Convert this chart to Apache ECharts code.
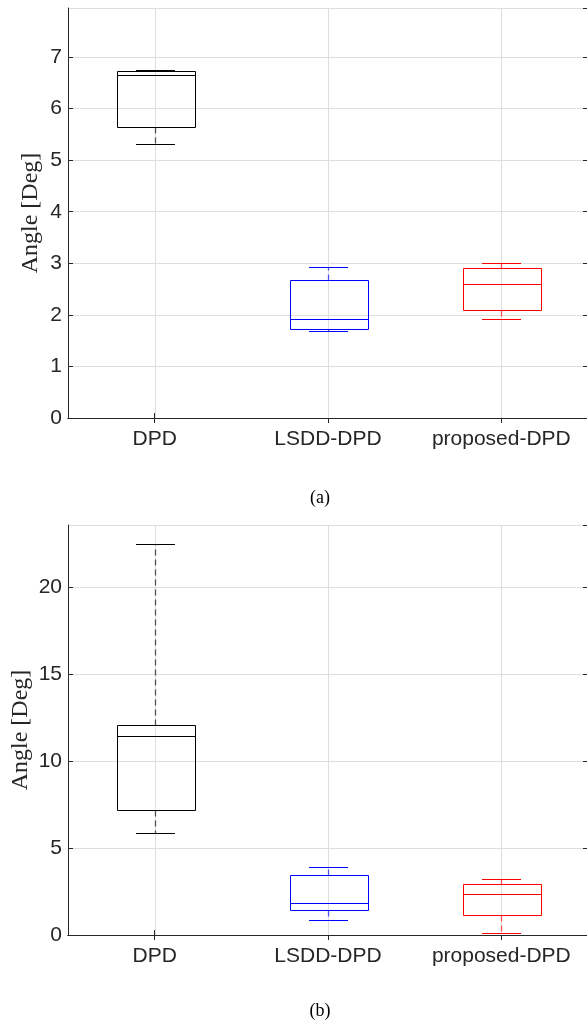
<!DOCTYPE html>
<html>
<head>
<meta charset="utf-8">
<script src="https://cdn.jsdelivr.net/npm/echarts@6/dist/echarts.min.js"></script>
<style>html,body{margin:0;padding:0;background:#fff}#c{width:587px;height:1023px}</style>
</head>
<body>
<div id="c"></div>
<script>
// ---- data ----
const categories = ['DPD', 'LSDD-DPD', 'proposed-DPD'];
const boxColors = ['#000000', '#0000ff', '#ff0000'];
// [lower whisker, Q1, median, Q3, upper whisker]
const dpdA  = [5.32, 5.65, 6.66, 6.72, 6.74];
const lsddA = [1.68, 1.73, 1.92, 2.67, 2.92];
const propA = [1.92, 2.09, 2.60, 2.91, 3.01];
const dpdB  = [5.86, 7.19, 11.43, 12.06, 22.5];
const lsddB = [0.86, 1.44, 1.86, 3.46, 3.94];
const propB = [0.10, 1.17, 2.35, 2.94, 3.21];
const yMaxA = 7.95, yIntA = 1;
const yMaxB = 23.6, yIntB = 5;
const yName = 'Angle [Deg]';
const captions = ['(a)', '(b)'];

const axisCol = '#262626';
const gridCol = '#dedede';
const sansFont = '"Liberation Sans", Arial, sans-serif';
const serifFont = '"Liberation Serif", "Times New Roman", serif';

const chart = echarts.init(document.getElementById('c'), null, {renderer: 'canvas'});

function rows(sets) {
  return sets.map((s, i) => [i].concat(s));
}

function renderBox(params, api) {
  const ci = api.value(0);
  const lo = api.value(1), q1 = api.value(2), med = api.value(3), q3 = api.value(4), hi = api.value(5);
  const band = api.size([1, 0])[0];
  const c = api.coord([ci, q1]);
  const cx = Math.round(c[0]) + 0.5;
  const yv = v => Math.round(api.coord([ci, v])[1]) + 0.5;
  const bw = band * 0.45, cw = band * 0.22;
  const col = boxColors[ci];
  const yTop = yv(q3), yBot = yv(q1), yMed = yv(med), yHi = yv(hi), yLo = yv(lo);
  const l = Math.round(cx - bw / 2) + 0.5, r = Math.round(cx + bw / 2) + 0.5;
  const cl = Math.round(cx - cw / 2), cr = Math.round(cx + cw / 2);
  const solid = {stroke: col, lineWidth: 1, fill: null};
  const dashed = {stroke: col, lineWidth: 1.3, lineDash: [6, 4], opacity: 0.65, fill: null};
  return {
    type: 'group',
    children: [
      {type: 'line', shape: {x1: cx, y1: yTop, x2: cx, y2: yHi}, style: dashed},
      {type: 'line', shape: {x1: cx, y1: yBot, x2: cx, y2: yLo}, style: dashed},
      {type: 'line', shape: {x1: cl, y1: yHi, x2: cr, y2: yHi}, style: solid},
      {type: 'line', shape: {x1: cl, y1: yLo, x2: cr, y2: yLo}, style: solid},
      {type: 'rect', shape: {x: l, y: yTop, width: r - l, height: yBot - yTop}, style: solid},
      {type: 'line', shape: {x1: l, y1: yMed, x2: r, y2: yMed}, style: solid}
    ]
  };
}

function renderVGrid(params, api) {
  const ci = api.value(0);
  const top = api.coord([ci, api.value(2)]);
  const bot = api.coord([ci, api.value(1)]);
  const x = Math.round(top[0]) + 0.5;
  return {type: 'line', shape: {x1: x, y1: top[1], x2: x, y2: bot[1]},
          style: {stroke: gridCol, lineWidth: 1}};
}

const grids = [
  {left: 68, top: 8, width: 520, height: 410, containLabel: false, outerBoundsMode: 'none'},
  {left: 68, top: 525, width: 520, height: 410, containLabel: false, outerBoundsMode: 'none'}
];

function xAxes(gi) {
  return [
    {type: 'category', gridIndex: gi, data: categories, position: 'bottom', boundaryGap: true,
     axisLine: {show: true, lineStyle: {color: axisCol, width: 1}},
     axisTick: {show: true, inside: true, length: 5, alignWithLabel: true, interval: 0, lineStyle: {color: axisCol}},
     axisLabel: {color: axisCol, fontSize: 21, fontFamily: sansFont, margin: 11, interval: 0, hideOverlap: false},
     splitLine: {show: false}},
    {type: 'category', gridIndex: gi, data: categories, position: 'top', boundaryGap: true,
     axisLine: {show: true, lineStyle: {color: axisCol, width: 1}},
     axisTick: {show: true, inside: true, length: 5, alignWithLabel: true, interval: 0, lineStyle: {color: axisCol}},
     axisLabel: {show: false}, splitLine: {show: false}}
  ];
}
function yAxes(gi, max, interval, gap) {
  return [
    {type: 'value', gridIndex: gi, min: 0, max: max, interval: interval, position: 'left',
     name: yName, nameLocation: 'middle', nameRotate: 90, nameGap: gap, nameMoveOverlap: false,
     nameTextStyle: {fontFamily: serifFont, fontSize: 24, color: axisCol},
     axisLine: {show: true, lineStyle: {color: axisCol, width: 1}},
     axisTick: {show: true, inside: true, length: 5, lineStyle: {color: axisCol}},
     axisLabel: {color: axisCol, fontSize: 21, fontFamily: sansFont, margin: 6, showMaxLabel: false},
     splitLine: {show: true, lineStyle: {color: gridCol, width: 1}}},
    {type: 'value', gridIndex: gi, min: 0, max: max, interval: interval, position: 'right',
     axisLine: {show: true, lineStyle: {color: axisCol, width: 1}},
     axisTick: {show: true, inside: true, length: 5, lineStyle: {color: axisCol}},
     axisLabel: {show: false}, splitLine: {show: false}}
  ];
}

const setsA = [dpdA, lsddA, propA];
const setsB = [dpdB, lsddB, propB];

const option = {
  animation: false,
  backgroundColor: '#ffffff',
  grid: grids,
  xAxis: xAxes(0).concat(xAxes(1)),
  yAxis: yAxes(0, yMaxA, yIntA, 25).concat(yAxes(1, yMaxB, yIntB, 35)),
  series: [
    {type: 'custom', xAxisIndex: 0, yAxisIndex: 0, renderItem: renderVGrid, z: 1,
     data: categories.map((c, i) => [i, 0, yMaxA])},
    {type: 'custom', xAxisIndex: 2, yAxisIndex: 2, renderItem: renderVGrid, z: 1,
     data: categories.map((c, i) => [i, 0, yMaxB])},
    {type: 'custom', xAxisIndex: 0, yAxisIndex: 0, renderItem: renderBox, z: 3,
     data: rows(setsA)},
    {type: 'custom', xAxisIndex: 2, yAxisIndex: 2, renderItem: renderBox, z: 3,
     data: rows(setsB)}
  ],
  graphic: [
    {type: 'text', style: {text: captions[0], x: 320, y: 498, textAlign: 'center', textVerticalAlign: 'middle', font: '18px ' + serifFont, fill: '#000'}},
    {type: 'text', style: {text: captions[1], x: 320, y: 1011, textAlign: 'center', textVerticalAlign: 'middle', font: '18px ' + serifFont, fill: '#000'}}
  ]
};
chart.setOption(option);
</script>
</body>
</html>
